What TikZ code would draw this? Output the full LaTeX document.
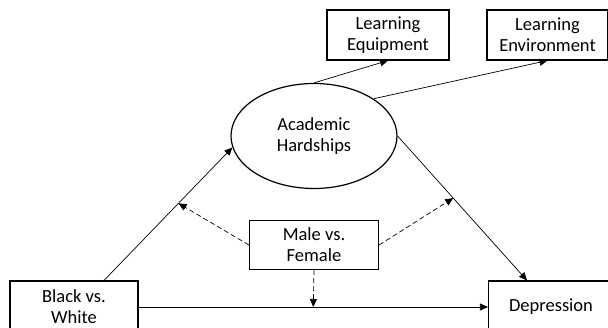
\documentclass[tikz,border=0pt]{standalone}
\usepackage{fontspec}
\setmainfont{Carlito}
\usetikzlibrary{arrows.meta, shapes, positioning}

\begin{document}
\begin{tikzpicture}[on grid, font=\fontsize{18.5}{21}\selectfont,
	box/.style={draw, line width=1.1pt, align=center, minimum height=50pt},
	path/.style={line width=0.7pt, -{Triangle[length=8pt, width=7pt]}},
	modpath/.style={path, dashed, dash pattern=on 5pt off 3pt}]
	\useasboundingbox (0,0) rectangle (608pt,-328pt);
	\node[draw, ellipse, line width=1.2pt, align=center, minimum width=166pt, minimum height=105pt, inner sep=0pt] (hard) at (314pt,-136pt) {Academic\\Hardships};
	\node[box, minimum width=122pt, above right=101pt and 74pt of hard] (equip) {Learning\\Equipment};
	\node[box, minimum width=121pt, right=159.5pt of equip] (envir) {Learning\\Environment};
	
	\node[box, minimum width=129pt, minimum height=49pt, below=109pt of hard] (gender) {Male vs.\\Female};
	\node[box, minimum width=128pt, minimum height=52pt, below left=62pt and 240pt of gender] (race) {Black vs.\\White};
	\node[box, minimum width=125pt, minimum height=52pt, below right=62pt and 237pt of gender] (dep) {Depression};
	
	\draw[path] (hard.north) -- (equip.south);
	\draw[path] (hard.32) -- (envir.south);
	\draw[path] ([xshift=30pt]race.north) -- coordinate[pos=0.58] (a) (hard.188);
	\draw[path] (hard.east) -- coordinate[pos=0.43] (b) ([xshift=-24pt]dep.north);
	\draw[path] (race) -- coordinate (c) (dep);
	
	\draw[modpath] (gender.west) -- (a);
	\draw[modpath] (gender.east) -- (b);
	\draw[modpath] (gender.south) -- (c);
\end{tikzpicture}
\end{document}
